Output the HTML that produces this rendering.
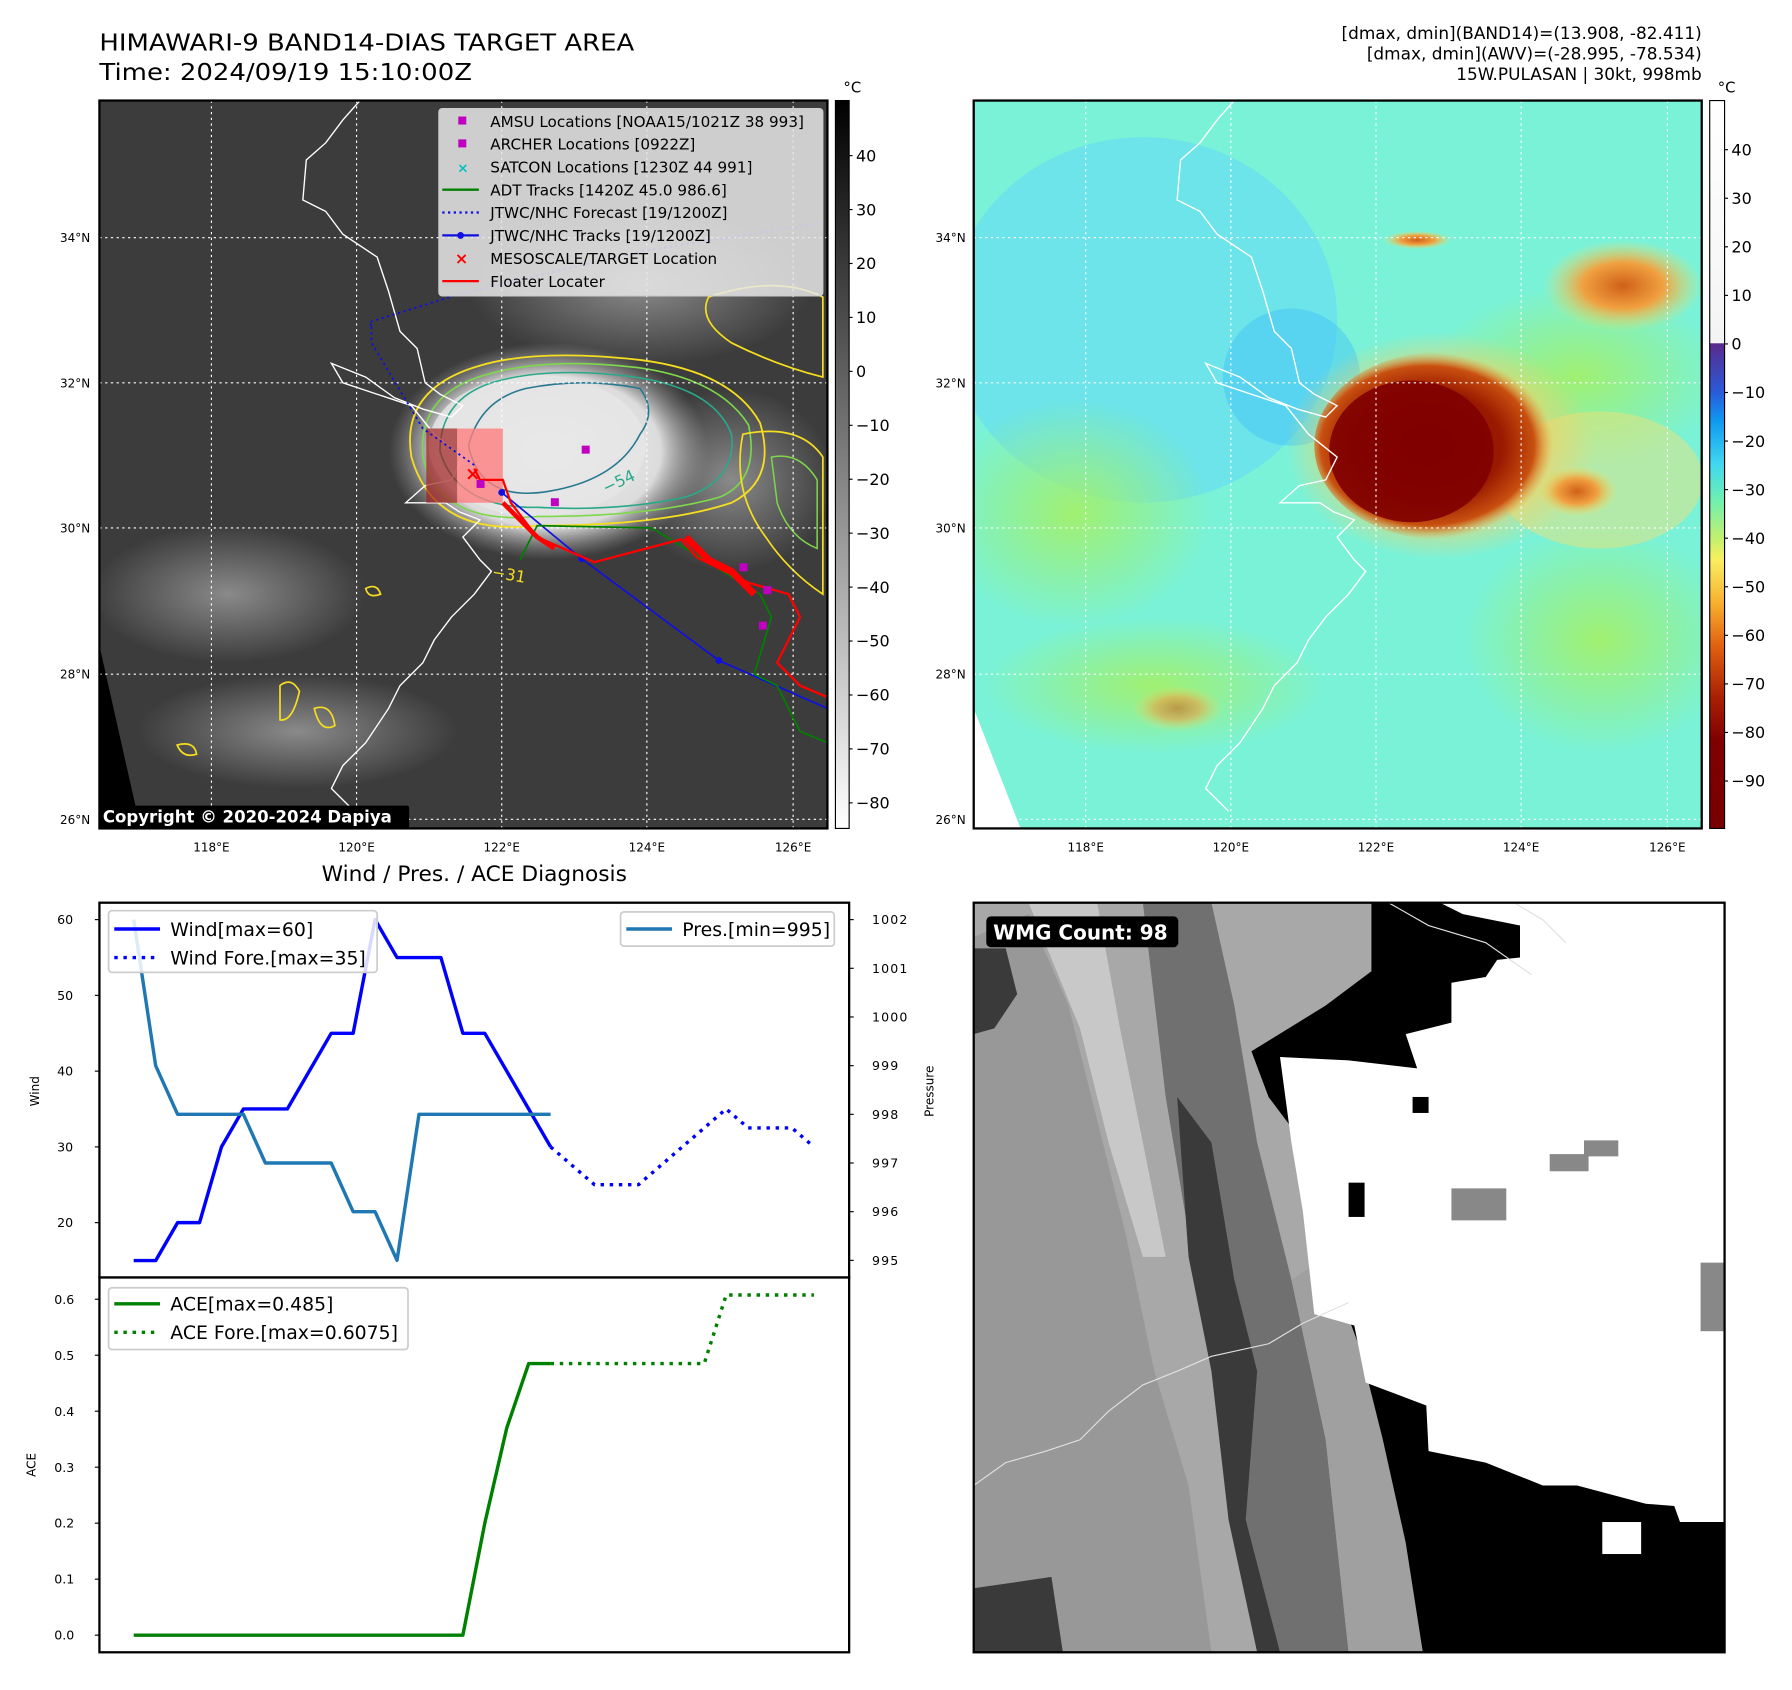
<!DOCTYPE html>
<html><head><meta charset="utf-8">
<style>
html,body{margin:0;padding:0;background:#fff;}
svg{display:block;font-family:"DejaVu Sans","Liberation Sans",sans-serif;}
</style></head>
<body>
<svg id="root" width="1792" height="1690" viewBox="0 0 1568 1479" preserveAspectRatio="none" xmlns="http://www.w3.org/2000/svg">
<defs>
  <linearGradient id="cb1" x1="0" y1="0" x2="0" y2="1">
    <stop offset="0" stop-color="#000"/><stop offset="1" stop-color="#fff"/>
  </linearGradient>
  <linearGradient id="cb2" x1="0" y1="0" x2="0" y2="1">
    <stop offset="0" stop-color="#ffffff"/>
    <stop offset="0.333" stop-color="#f4f4f4"/>
    <stop offset="0.334" stop-color="#5a2a8c"/>
    <stop offset="0.40" stop-color="#2a5ad8"/>
    <stop offset="0.44" stop-color="#1098f0"/>
    <stop offset="0.50" stop-color="#40d8f0"/>
    <stop offset="0.55" stop-color="#70f0b0"/>
    <stop offset="0.60" stop-color="#c0f070"/>
    <stop offset="0.63" stop-color="#f8f060"/>
    <stop offset="0.69" stop-color="#f8b030"/>
    <stop offset="0.75" stop-color="#e06010"/>
    <stop offset="0.82" stop-color="#a82004"/>
    <stop offset="0.88" stop-color="#800000"/>
    <stop offset="1" stop-color="#780000"/>
  </linearGradient>
  <radialGradient id="storm1" cx="0.5" cy="0.5" r="0.5">
    <stop offset="0" stop-color="#f2f2f2"/><stop offset="0.7" stop-color="#dcdcdc"/><stop offset="1" stop-color="#9a9a9a" stop-opacity="0"/>
  </radialGradient>
  <radialGradient id="storm2" cx="0.45" cy="0.5" r="0.5">
    <stop offset="0" stop-color="#800000"/><stop offset="0.6" stop-color="#9a1a00"/><stop offset="0.85" stop-color="#c85010"/><stop offset="1" stop-color="#e8a040" stop-opacity="0"/>
  </radialGradient>
  <radialGradient id="cloud" cx="0.5" cy="0.5" r="0.5">
    <stop offset="0" stop-color="#8a8a8a"/><stop offset="1" stop-color="#8a8a8a" stop-opacity="0"/>
  </radialGradient>
  <radialGradient id="orangeblob" cx="0.5" cy="0.5" r="0.5">
    <stop offset="0" stop-color="#d06018"/><stop offset="0.5" stop-color="#f0a040"/><stop offset="1" stop-color="#f0e060" stop-opacity="0"/>
  </radialGradient>
  <radialGradient id="greenblob" cx="0.5" cy="0.5" r="0.5">
    <stop offset="0" stop-color="#a0f070"/><stop offset="1" stop-color="#a0f070" stop-opacity="0"/>
  </radialGradient>
  <radialGradient id="yellowhalo" cx="0.5" cy="0.5" r="0.5">
    <stop offset="0.6" stop-color="#f8d060"/><stop offset="1" stop-color="#f8d060" stop-opacity="0"/>
  </radialGradient>
  <clipPath id="clip1"><rect x="87" y="88" width="637" height="637"/></clipPath>
  <clipPath id="clip2"><rect x="852" y="88" width="637" height="637"/></clipPath>
  <clipPath id="clip3"><rect x="852" y="790" width="657" height="656"/></clipPath>
</defs>

<!-- Titles -->
<text x="87" y="44" font-size="20.5" textLength="468" lengthAdjust="spacingAndGlyphs">HIMAWARI-9 BAND14-DIAS TARGET AREA</text>
<text x="87" y="70" font-size="20.5" textLength="326" lengthAdjust="spacingAndGlyphs">Time: 2024/09/19 15:10:00Z</text>
<g font-size="14.8" text-anchor="end">
  <text x="1489" y="34">[dmax, dmin](BAND14)=(13.908, -82.411)</text>
  <text x="1489" y="52">[dmax, dmin](AWV)=(-28.995, -78.534)</text>
  <text x="1489" y="70">15W.PULASAN | 30kt, 998mb</text>
</g>

<!-- MAP 1 -->
<g clip-path="url(#clip1)">
  <rect x="87" y="88" width="637" height="637" fill="#3c3c3c"/>
  <ellipse cx="200" cy="520" rx="120" ry="60" fill="url(#cloud)"/>
  <ellipse cx="260" cy="640" rx="140" ry="50" fill="url(#cloud)"/>
  <ellipse cx="560" cy="250" rx="150" ry="70" fill="url(#cloud)"/>
  <ellipse cx="640" cy="420" rx="90" ry="80" fill="url(#cloud)"/>
  <ellipse cx="480" cy="395" rx="140" ry="95" fill="url(#storm1)"/>
  <ellipse cx="470" cy="390" rx="95" ry="62" fill="#e6e6e6" opacity="0.8"/>
  <path d="M87 565 L123 725 L87 725 Z" fill="#000"/>
  <path d="M360 400 Q350 340 420 320 Q470 305 560 315 Q640 325 665 370 Q680 420 640 440 Q580 460 470 460 Q380 470 360 400 Z" fill="none" stroke="#f5dd20" stroke-width="1.6"/>
  <path d="M370 400 Q365 345 425 328 Q480 312 560 322 Q630 332 655 372 Q665 420 630 435 Q570 452 470 452 Q385 460 370 400 Z" fill="none" stroke="#7ed84a" stroke-width="1.4"/>
  <path d="M385 395 Q385 350 430 335 Q480 320 555 330 Q625 340 640 380 Q645 420 600 435 Q540 448 470 444 Q400 445 385 395 Z" fill="none" stroke="#2aa88a" stroke-width="1.4"/>
  <path d="M410 390 Q420 350 460 340 Q510 330 560 340 Q575 360 560 380 Q540 420 480 430 Q420 440 410 390 Z" fill="none" stroke="#287890" stroke-width="1.4"/>
  <path d="M620 260 Q680 240 720 260 L720 330 Q680 320 640 300 Q610 280 620 260 Z" fill="none" stroke="#f5dd20" stroke-width="1.5"/>
  <path d="M650 380 Q700 370 720 400 L720 520 Q690 500 670 470 Q640 430 650 380 Z" fill="none" stroke="#f5dd20" stroke-width="1.5"/>
  <path d="M675 400 Q700 395 715 420 L715 480 Q690 470 680 440 Z" fill="none" stroke="#7ed84a" stroke-width="1.3"/>
  <path d="M245 600 Q255 592 262 605 Q256 632 245 630 Z M275 620 Q290 615 293 635 Q280 642 275 620 Z M155 652 Q170 648 172 660 Q160 664 155 652 Z M320 515 Q330 510 333 520 Q322 524 320 515 Z" fill="none" stroke="#f5dd20" stroke-width="1.5"/>
  <polyline points="315,88 300,105 285,125 268,140 265,175 285,185 300,205 330,225 340,255 350,290 365,305 372,335 385,345 405,355 395,365 370,358 345,348 320,330 290,318 300,335 330,345 360,355 380,380 405,400 395,420 372,425 355,440 390,440 402,448 420,455 405,470 420,490 430,500 415,520 395,540 380,560 370,580 350,600 340,620 320,650 300,670 290,690 310,710" fill="none" stroke="#fff" stroke-width="1.2"/>
  <g stroke="#fff" stroke-width="1" stroke-dasharray="2,3">
    <line x1="185" y1="88" x2="185" y2="725"/><line x1="312" y1="88" x2="312" y2="725"/><line x1="439" y1="88" x2="439" y2="725"/><line x1="566" y1="88" x2="566" y2="725"/><line x1="694" y1="88" x2="694" y2="725"/>
    <line x1="87" y1="208" x2="724" y2="208"/><line x1="87" y1="335" x2="724" y2="335"/><line x1="87" y1="462" x2="724" y2="462"/><line x1="87" y1="590" x2="724" y2="590"/><line x1="87" y1="717" x2="724" y2="717"/>
  </g>
  <rect x="400" y="375" width="40" height="65" fill="#ff8080" opacity="0.8"/>
  <rect x="373" y="375" width="27" height="65" fill="#a02020" opacity="0.7"/>
  <polyline points="325,285 323,282 400,258 560,220 720,195" fill="none" stroke="#1010e0" stroke-width="1.6" stroke-dasharray="2,3"/>
  <polyline points="415,407 370,375 325,300 325,285" fill="none" stroke="#1010e0" stroke-width="1.6" stroke-dasharray="2,3"/>
  <polyline points="439,431 509,489 629,578 724,620" fill="none" stroke="#1010e0" stroke-width="1.5"/>
  <g fill="#1010e0"><circle cx="439" cy="431" r="3"/><circle cx="509" cy="489" r="3"/><circle cx="629" cy="578" r="3"/></g>
  <polyline points="455,490 470,460 570,462 600,480 665,520 675,540 660,590 680,600 700,640 724,650" fill="none" stroke="#008000" stroke-width="1.5"/>
  <polyline points="415,410 420,420 440,420 447,440 470,470 520,492 596,472 610,488 655,510 690,520 700,540 680,580 700,600 724,610" fill="none" stroke="#ff0000" stroke-width="2"/>
  <polyline points="440,440 455,455 470,470 485,480" fill="none" stroke="#ff0000" stroke-width="4"/>
  <polyline points="600,470 620,490 640,500 660,520" fill="none" stroke="#ff0000" stroke-width="6"/>
  <text x="407" y="420" fill="#ff0000" font-size="16" font-weight="bold">×</text>
  <g fill="#c000c0">
    <rect x="417" y="420" width="7" height="7"/><rect x="482" y="436" width="7" height="7"/><rect x="509" y="390" width="7" height="7"/>
    <rect x="647" y="493" width="7" height="7"/><rect x="668" y="513" width="7" height="7"/><rect x="664" y="544" width="7" height="7"/>
  </g>
  <text x="530" y="432" fill="#2aa88a" font-size="14" transform="rotate(-25 530 432)">−54</text>
  <text x="430" y="505" fill="#f5dd20" font-size="14" transform="rotate(10 430 505)">−31</text>
</g>
<rect x="87" y="88" width="637" height="637" fill="none" stroke="#000" stroke-width="2"/>

<g>
  <rect x="384" y="95" width="336" height="164" rx="3" fill="#e8e8e8" fill-opacity="0.85" stroke="#ccc"/>
  <g font-size="13.3">
    <rect x="401" y="102" width="7" height="7" fill="#c000c0"/><text x="429" y="111">AMSU Locations [NOAA15/1021Z 38 993]</text>
    <rect x="401" y="122" width="7" height="7" fill="#c000c0"/><text x="429" y="131">ARCHER Locations [0922Z]</text>
    <text x="400" y="151" fill="#00c0c0" font-size="12" font-weight="bold">×</text><text x="429" y="151">SATCON Locations [1230Z 44 991]</text>
    <line x1="387" y1="166" x2="419" y2="166" stroke="#008000" stroke-width="2"/><text x="429" y="171">ADT Tracks [1420Z 45.0 986.6]</text>
    <line x1="387" y1="186" x2="419" y2="186" stroke="#1010e0" stroke-width="2" stroke-dasharray="2,3"/><text x="429" y="191">JTWC/NHC Forecast [19/1200Z]</text>
    <line x1="387" y1="206" x2="419" y2="206" stroke="#1010e0" stroke-width="2"/><circle cx="403" cy="206" r="3" fill="#1010e0"/><text x="429" y="211">JTWC/NHC Tracks [19/1200Z]</text>
    <text x="398" y="231" fill="#f00" font-size="14" font-weight="bold">×</text><text x="429" y="231">MESOSCALE/TARGET Location</text>
    <line x1="387" y1="246" x2="419" y2="246" stroke="#f00" stroke-width="2"/><text x="429" y="251">Floater Locater</text>
  </g>
</g>
<g>
  <rect x="87" y="705" width="271" height="20" rx="2" fill="#000"/>
  <text x="90" y="720" fill="#fff" font-size="14.5" font-weight="bold">Copyright © 2020-2024 Dapiya</text>
</g>
<g font-size="10.5" text-anchor="end">
  <text x="79" y="212">34°N</text><text x="79" y="339">32°N</text><text x="79" y="466">30°N</text><text x="79" y="594">28°N</text><text x="79" y="721">26°N</text>
</g>
<g font-size="10.5" text-anchor="middle">
  <text x="185" y="745">118°E</text><text x="312" y="745">120°E</text><text x="439" y="745">122°E</text><text x="566" y="745">124°E</text><text x="694" y="745">126°E</text>
</g>
<g>
  <rect x="731" y="88" width="12" height="637" fill="url(#cb1)" stroke="#000" stroke-width="1"/>
  <text x="738" y="81" font-size="13">°C</text>
  <g font-size="14" id="cb1ticks"></g>
</g>

<!-- MAP 2 -->
<g clip-path="url(#clip2)">
  <rect x="852" y="88" width="637" height="637" fill="#7af2d8"/>
  <ellipse cx="1000" cy="280" rx="170" ry="160" fill="#60d8f8" opacity="0.55"/>
  <ellipse cx="1130" cy="330" rx="60" ry="60" fill="#40c0f8" opacity="0.45"/>
  <ellipse cx="940" cy="450" rx="120" ry="100" fill="url(#greenblob)"/>
  <ellipse cx="1010" cy="600" rx="150" ry="60" fill="url(#greenblob)"/>
  <ellipse cx="1400" cy="560" rx="120" ry="100" fill="url(#greenblob)"/>
  <ellipse cx="1380" cy="330" rx="130" ry="80" fill="url(#greenblob)"/>
  <ellipse cx="1420" cy="250" rx="70" ry="40" fill="url(#orangeblob)"/>
  <ellipse cx="1400" cy="420" rx="90" ry="60" fill="#f8e070" opacity="0.45"/>
  <ellipse cx="1260" cy="390" rx="135" ry="100" fill="url(#yellowhalo)" opacity="0.8"/>
  <ellipse cx="1260" cy="390" rx="110" ry="82" fill="url(#storm2)"/>
  <ellipse cx="1235" cy="395" rx="72" ry="62" fill="#800000" opacity="0.9"/>
  <ellipse cx="1380" cy="430" rx="35" ry="22" fill="url(#orangeblob)"/>
  <ellipse cx="1240" cy="210" rx="30" ry="8" fill="url(#orangeblob)"/>
  <ellipse cx="1030" cy="620" rx="40" ry="20" fill="url(#orangeblob)" opacity="0.6"/>
  <path d="M852 620 L893 725 L852 725 Z" fill="#fff"/>
  <polyline points="1080,88 1065,105 1050,125 1033,140 1030,175 1050,185 1065,205 1095,225 1105,255 1115,290 1130,305 1137,335 1150,345 1170,355 1160,365 1135,358 1110,348 1085,330 1055,318 1065,335 1095,345 1125,355 1145,380 1170,400 1160,420 1137,425 1120,440 1155,440 1167,448 1185,455 1170,470 1185,490 1195,500 1180,520 1160,540 1145,560 1135,580 1115,600 1105,620 1085,650 1065,670 1055,690 1075,710" fill="none" stroke="#fff" stroke-width="1.2"/>
  <g stroke="#fff" stroke-width="1" stroke-dasharray="2,3">
    <line x1="950" y1="88" x2="950" y2="725"/><line x1="1077" y1="88" x2="1077" y2="725"/><line x1="1204" y1="88" x2="1204" y2="725"/><line x1="1331" y1="88" x2="1331" y2="725"/><line x1="1459" y1="88" x2="1459" y2="725"/>
    <line x1="852" y1="208" x2="1489" y2="208"/><line x1="852" y1="335" x2="1489" y2="335"/><line x1="852" y1="462" x2="1489" y2="462"/><line x1="852" y1="590" x2="1489" y2="590"/><line x1="852" y1="717" x2="1489" y2="717"/>
  </g>
</g>
<rect x="852" y="88" width="637" height="637" fill="none" stroke="#000" stroke-width="2"/>
<g font-size="10.5" text-anchor="end">
  <text x="845" y="212">34°N</text><text x="845" y="339">32°N</text><text x="845" y="466">30°N</text><text x="845" y="594">28°N</text><text x="845" y="721">26°N</text>
</g>
<g font-size="10.5" text-anchor="middle">
  <text x="950" y="745">118°E</text><text x="1077" y="745">120°E</text><text x="1204" y="745">122°E</text><text x="1331" y="745">124°E</text><text x="1459" y="745">126°E</text>
</g>
<g>
  <rect x="1496" y="88" width="13" height="637" fill="url(#cb2)" stroke="#000" stroke-width="1"/>
  <text x="1503" y="81" font-size="13">°C</text>
  <g font-size="14" id="cb2ticks"></g>
</g>

<!-- Chart -->
<text x="415" y="771" font-size="19" text-anchor="middle">Wind / Pres. / ACE Diagnosis</text>
<g id="chart"></g>

<!-- WMG panel -->
<g clip-path="url(#clip3)">
  <rect x="852" y="790" width="657" height="656" fill="#a8a8a8"/>
  <path d="M852 820 L900 800 L935 880 L960 980 L985 1080 L1010 1200 L1040 1300 L1060 1446 L852 1446 Z" fill="#989898"/>
  <path d="M900 790 L960 790 L980 900 L1000 1000 L1020 1100 L1000 1100 L970 1000 L945 900 Z" fill="#c8c8c8"/>
  <path d="M1000 790 L1060 790 L1080 880 L1100 1000 L1130 1120 L1160 1260 L1180 1446 L1110 1446 L1080 1300 L1060 1180 L1040 1080 L1020 960 Z" fill="#707070"/>
  <path d="M852 830 L880 830 L890 870 L870 900 L852 905 Z" fill="#3a3a3a"/>
  <path d="M852 1390 L920 1380 L930 1446 L852 1446 Z" fill="#3a3a3a"/>
  <path d="M1030 960 L1060 1000 L1080 1120 L1100 1200 L1090 1330 L1120 1446 L1100 1446 L1075 1330 L1060 1200 L1040 1100 Z" fill="#3a3a3a"/>
  <path d="M1130 1120 L1160 1260 L1180 1446 L1245 1446 L1230 1350 L1210 1260 L1190 1180 L1160 1100 Z" fill="#a0a0a0"/>
  <path d="M1200 790 L1509 790 L1509 1446 L1245 1446 L1230 1350 L1210 1260 L1190 1180 L1160 1100 L1140 1000 L1110 960 L1095 920 L1160 880 L1200 850 Z" fill="#000"/>
  <path d="M1260 790 L1509 790 L1509 1332 L1470 1332 L1465 1318 L1440 1316 L1380 1300 L1350 1300 L1300 1280 L1250 1270 L1248 1230 L1195 1210 L1185 1160 L1150 1150 L1140 1060 L1130 1000 L1120 925 L1180 928 L1240 935 L1230 905 L1270 895 L1270 860 L1300 855 L1310 840 L1330 838 L1330 810 L1280 800 Z" fill="#fff"/>
  <rect x="1402" y="1332" width="34" height="28" fill="#fff"/>
  <rect x="1180" y="1035" width="14" height="30" fill="#000"/>
  <rect x="1236" y="960" width="14" height="14" fill="#000"/>
  <path d="M1356 1010 L1386 1010 L1386 998 L1416 998 L1416 1012 L1390 1012 L1390 1025 L1356 1025 Z" fill="#888"/>
  <rect x="1270" y="1040" width="48" height="28" fill="#888"/>
  <rect x="1488" y="1105" width="21" height="60" fill="#888"/>
  <polyline points="852,1300 880,1280 915,1270 945,1260 970,1235 1000,1212 1030,1200 1060,1187 1110,1176 1140,1158 1180,1140" fill="none" stroke="#e0e0e0" stroke-width="1"/>
  <polyline points="1215,790 1250,810 1300,825 1340,853" fill="none" stroke="#e0e0e0" stroke-width="1"/>
  <polyline points="1325,790 1350,805 1370,825" fill="none" stroke="#e0e0e0" stroke-width="1"/>
</g>
<rect x="852" y="790" width="657" height="656" fill="none" stroke="#000" stroke-width="2"/>
<g>
  <rect x="863" y="802" width="168" height="27" rx="4" fill="#000"/>
  <text x="869" y="822" fill="#fff" font-size="17.5" font-weight="bold">WMG Count: 98</text>
</g>

<script>
const windVals = [15,15,20,20,30,35,35,35,40,45,45,60,55,55,55,45,45,40,35,30];
const windFore = [30,27.5,25,25,25,27.5,30,32.5,35,32.5,32.5,32.5,30];
const presVals = [1002,999,998,998,998,998,997,997,997,997,996,996,995,998,998,998,998,998,998,998];
const aceVals = [0,0,0,0,0,0,0,0,0,0,0,0,0,0,0,0,0.2,0.37,0.485,0.485];
const aceFore = [0.485,0.485,0.485,0.485,0.485,0.485,0.485,0.485,0.6075,0.6075,0.6075,0.6075,0.6075];
const foreStart = 19;
const windTicks = [20,30,40,50,60];
const presTicks = [995,996,997,998,999,1000,1001,1002];
const aceTicks = [0.0,0.1,0.2,0.3,0.4,0.5,0.6];
const cb1Ticks = [40,30,20,10,0,-10,-20,-30,-40,-50,-60,-70,-80];
const cb2Ticks = [40,30,20,10,0,-10,-20,-30,-40,-50,-60,-70,-80,-90];

const NS = 'http://www.w3.org/2000/svg';
function mk(tag, attrs, parent){const e=document.createElementNS(NS,tag);for(const k in attrs)e.setAttribute(k,attrs[k]);parent.appendChild(e);return e;}
const chart = document.getElementById('chart');
const X = i => 117 + 19.2*i;
const yWind = v => 1070 - (v-20)*6.63;
const yPres = v => 1103 - (v-995)*42.6;
const yAce = v => 1431 - v*490;

const cb1 = document.getElementById('cb1ticks');
cb1Ticks.forEach(t=>{const y=325-t*4.72;
  mk('line',{x1:743,y1:y,x2:746,y2:y,stroke:'#000'},cb1);
  const tx=mk('text',{x:749,y:y+5},cb1);tx.textContent=t<0?'−'+(-t):t;
  
  });
const cb2 = document.getElementById('cb2ticks');
cb2Ticks.forEach(t=>{const y=301-t*4.25;
  mk('line',{x1:1509,y1:y,x2:1512,y2:y,stroke:'#000'},cb2);
  const tx=mk('text',{x:1515,y:y+5},cb2);tx.textContent=t<0?'−'+(-t):t;
  
  });

mk('rect',{x:87,y:790,width:656,height:328,fill:'#fff',stroke:'#000','stroke-width':2},chart);
mk('rect',{x:87,y:1118,width:656,height:328,fill:'#fff',stroke:'#000','stroke-width':2},chart);

windTicks.forEach(t=>{const y=yWind(t);
  mk('line',{x1:83,y1:y,x2:87,y2:y,stroke:'#000'},chart);
  const tx=mk('text',{x:64,y:y+4,'font-size':11,'text-anchor':'end'},chart);tx.textContent=t;
  
  });
presTicks.forEach(t=>{const y=yPres(t);
  mk('line',{x1:743,y1:y,x2:747,y2:y,stroke:'#000'},chart);
  const tx=mk('text',{x:763,y:y+4,'font-size':11,'textLength':31},chart);tx.textContent=t;
  if(t<1000) tx.setAttribute('textLength',23);
  
  });
aceTicks.forEach(t=>{const y=yAce(t);
  mk('line',{x1:83,y1:y,x2:87,y2:y,stroke:'#000'},chart);
  const tx=mk('text',{x:65,y:y+4,'font-size':11,'text-anchor':'end'},chart);tx.textContent=t.toFixed(1);
  
  });
let t1=mk('text',{x:34,y:955,'font-size':10.5,'text-anchor':'middle',transform:'rotate(-90 34 955)'},chart);t1.textContent='Wind';


let t2=mk('text',{x:817,y:955,'font-size':10.5,'text-anchor':'middle',transform:'rotate(-90 817 955)'},chart);t2.textContent='Pressure';


let t3=mk('text',{x:31,y:1282,'font-size':10.5,'text-anchor':'middle',transform:'rotate(-90 31 1282)'},chart);t3.textContent='ACE';



function line(vals, off, yf, color, dash, w, name){
  const pts = vals.map((v,i)=>X(i+off).toFixed(1)+','+yf(v).toFixed(1)).join(' ');
  const p = mk('polyline',{points:pts,fill:'none',stroke:color,'stroke-width':w,'stroke-linejoin':'round'},chart);
  if(dash) p.setAttribute('stroke-dasharray',dash);
  
  
}
line(windVals,0,yWind,'#0000ff',null,3,'wind-line');
line(windFore,foreStart,yWind,'#0000ff','3,5',3,'wind-forecast-line');
line(presVals,0,yPres,'#1f77b4',null,3,'pressure-line');
line(aceVals,0,yAce,'#008000',null,3,'ace-line');
line(aceFore,foreStart,yAce,'#008000','3,5',3,'ace-forecast-line');

function legendBox(x,y,w,h,name){const r=mk('rect',{x:x,y:y,width:w,height:h,rx:3,fill:'#fff','fill-opacity':0.85,stroke:'#ccc','stroke-width':1.5},chart);
  
  }
function entry(x,y,color,dash,label){const l=mk('line',{x1:x,y1:y,x2:x+40,y2:y,stroke:color,'stroke-width':3},chart);if(dash)l.setAttribute('stroke-dasharray',dash);
  const t=mk('text',{x:x+49,y:y+6,'font-size':16.5},chart);t.textContent=label;
  
  }
legendBox(95,797,235,54,'wind-legend');
entry(100,813,'#0000ff',null,'Wind[max=60]');
entry(100,838,'#0000ff','3,5','Wind Fore.[max=35]');
legendBox(543,798,187,30,'pressure-legend');
entry(548,813,'#1f77b4',null,'Pres.[min=995]');
legendBox(95,1127,262,54,'ace-legend');
entry(100,1141,'#008000',null,'ACE[max=0.485]');
entry(100,1166,'#008000','3,5','ACE Fore.[max=0.6075]');
</script>
</svg>
</body></html>
